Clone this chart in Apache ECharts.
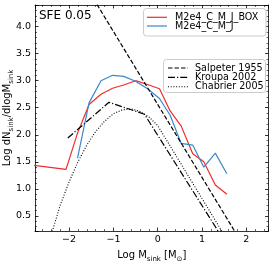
<!DOCTYPE html>
<html><head><meta charset="utf-8">
<script src="https://cdn.jsdelivr.net/npm/echarts@6/dist/echarts.min.js"></script>
<style>html,body{margin:0;padding:0;background:#fff}#c{width:274px;height:262px}</style>
</head><body><div id="c"></div>
<script>
// Simulation sink mass functions (log bins)
const redName = 'M2e4_C_M_J_BOX';
const redX = [-2.86, -2.07, -1.81, -1.55, -1.28, -1.02, -0.77, -0.50, -0.23, 0.04, 0.28, 0.53, 0.79, 1.04, 1.30, 1.56];
const redY = [1.44, 1.36, 2.03, 2.56, 2.75, 2.86, 2.92, 3.00, 2.93, 2.85, 2.44, 2.16, 1.65, 1.50, 1.07, 0.90];
const blueName = 'M2e4_C_M_J';
const blueX = [-1.81, -1.55, -1.28, -1.02, -0.77, -0.50, -0.23, 0.04, 0.28, 0.53, 0.79, 1.04, 1.30, 1.56];
const blueY = [1.57, 2.59, 3.00, 3.10, 3.08, 2.99, 2.85, 2.67, 2.36, 1.84, 1.81, 1.40, 1.66, 1.28];
// Reference IMFs
const salpName = 'Salpeter 1955', kroName = 'Kroupa 2002', chabName = 'Chabrier 2005';
const salpX = [-1.60, 2.00];
const salpY = [4.72, -0.14];
const kroX = [-2.03, -1.10, -0.30, 1.60];
const kroY = [1.94, 2.60, 2.38, -0.09];
const chabX = [-2.45, -2.37, -2.20, -2.00, -1.80, -1.60, -1.40, -1.20, -1.00, -0.80, -0.60, -0.40, -0.20, 0.00, 1.60];
const chabY = [0.02, 0.24, 0.70, 1.13, 1.50, 1.81, 2.06, 2.25, 2.39, 2.46, 2.48, 2.43, 2.33, 2.17, 0.01];
const xMin = -2.77, xMax = 2.5, yMin = 0.22, yMax = 4.4;

const RED = '#f42a2a', BLUE = '#3a88cc';
const DASH = [4.5, 2], DASHDOT = [7, 2, 1.2, 2], DOT = [1, 1.7];
const pairs = (xs, ys) => xs.map((x, i) => [x, ys[i]]);
const FONT = 'DejaVu Sans';
const chart = echarts.init(document.getElementById('c'), null, {renderer: 'canvas'});
const tickCfg = {
  axisLine: {show: true, onZero: false, lineStyle: {color: '#000', width: 0.8}},
  axisTick: {show: true, inside: true, length: 3.5, lineStyle: {color: '#000', width: 0.8}},
  minorTick: {show: true, splitNumber: 5, length: 2, lineStyle: {color: '#000', width: 0.6}},
  splitLine: {show: false}
};
const mirror = (pos, type) => Object.assign({
  type: 'value', position: pos, min: type === 'x' ? xMin : yMin, max: type === 'x' ? xMax : yMax,
  splitNumber: type === 'x' ? 5 : 8, axisLabel: {show: false}
}, tickCfg);
const line = (name, xs, ys, color, type, width) => ({
  name, type: 'line', data: pairs(xs, ys), symbol: 'none', clip: true, animation: false,
  lineStyle: {color, width, type}, itemStyle: {color}, z: 3
});
const lbl = {fontFamily: FONT, fontSize: 10, color: '#000'};
const subRich = {s: {fontFamily: FONT, fontSize: 7, color: '#000', verticalAlign: 'bottom', padding: [0, 0, -3, 0]}};

// legend drawn as graphic elements
function legendBox(x, y, w, h, entries, lx, tx, rows) {
  const els = [{type: 'rect', shape: {x, y, width: w, height: h, r: 3},
    style: {fill: 'rgba(255,255,255,0.8)', stroke: '#cccccc', lineWidth: 1}, z: 10}];
  entries.forEach((e, i) => {
    els.push({type: 'line', shape: {x1: lx, y1: rows[i], x2: lx + 20, y2: rows[i]},
      style: {stroke: e.color, lineWidth: e.width || 1.2, lineDash: e.dash || null}, z: 11});
    els.push({type: 'text', x: tx, y: rows[i],
      style: {text: e.name, font: '9.6px "DejaVu Sans"', fill: '#000', verticalAlign: 'middle', align: 'left'}, z: 11});
  });
  return els;
}

chart.setOption({
  animation: false,
  backgroundColor: '#fff',
  grid: {left: 35, right: 5.5, top: 5, bottom: 31, outerBoundsMode: 'none', containLabel: false},
  xAxis: [Object.assign({
    type: 'value', position: 'bottom', min: xMin, max: xMax, splitNumber: 5,
    axisLabel: {fontFamily: FONT, fontSize: 9.5, color: '#000', margin: 4, showMinLabel: false, showMaxLabel: false,
      formatter: v => String(v).replace('-', '\u2212')},
    name: 'Log M{s|sink} [M{s|\u2299}]', nameLocation: 'middle', nameGap: 19, nameMoveOverlap: false,
    nameTextStyle: Object.assign({}, lbl, {rich: subRich})
  }, tickCfg), mirror('top', 'x')],
  yAxis: [Object.assign({
    type: 'value', position: 'left', min: yMin, max: yMax, splitNumber: 8,
    axisLabel: {fontFamily: FONT, fontSize: 9.5, color: '#000', margin: 4, showMinLabel: false, showMaxLabel: false,
      formatter: v => v.toFixed(1)},
    name: 'Log dN{s|sink}/dlogM{s|sink}', nameLocation: 'middle', nameGap: 23, nameRotate: 90, nameMoveOverlap: false,
    nameTextStyle: Object.assign({}, lbl, {rich: subRich})
  }, tickCfg), mirror('right', 'y')],
  graphic: [{
    type: 'text', left: 39, top: 9.5,
    style: {text: 'SFE 0.05', font: '12px "DejaVu Sans"', fill: '#000'}
  }].concat(
    legendBox(143.5, 8.5, 122.5, 27.5, [{name: redName, color: RED}, {name: blueName, color: BLUE}], 147, 175, [17.3, 26]),
    legendBox(163.5, 59.5, 102, 33, [{name: salpName, color: '#000', dash: DASH}, {name: kroName, color: '#000', dash: DASHDOT}, {name: chabName, color: '#000', dash: DOT, width: 1.1}], 168, 195, [68, 77.3, 86.7])
  ),
  series: [
    line(redName, redX, redY, RED, 'solid', 1.2),
    line(blueName, blueX, blueY, BLUE, 'solid', 1.2),
    line(salpName, salpX, salpY, '#000', DASH, 1.2),
    line(kroName, kroX, kroY, '#000', DASHDOT, 1.2),
    line(chabName, chabX, chabY, '#000', DOT, 1.1)
  ]
});
</script></body></html>
